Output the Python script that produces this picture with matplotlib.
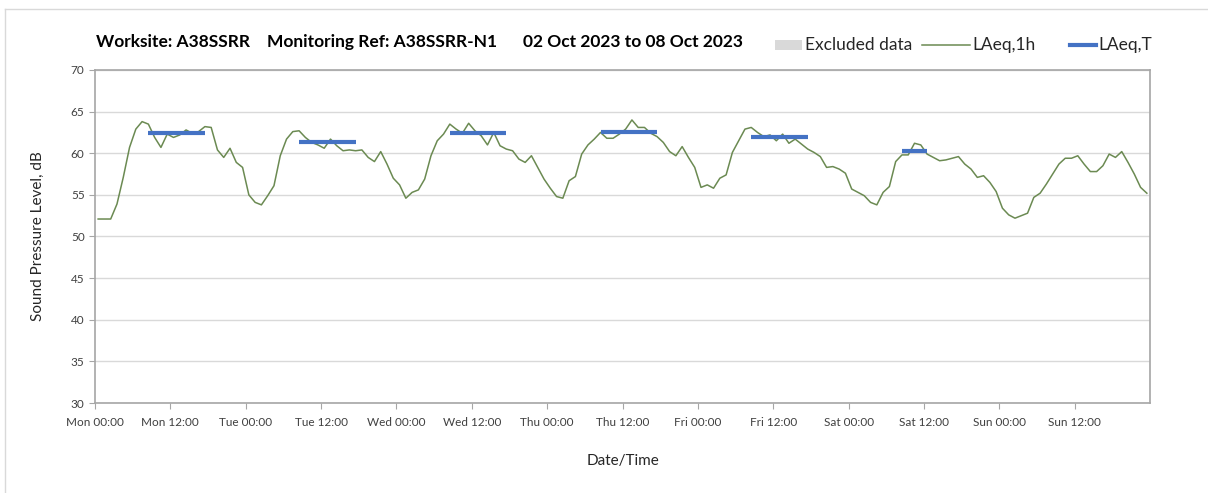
"""Hourly noise monitoring chart: LAeq,1h with daytime LAeq,T bars."""

import matplotlib.pyplot as plt
import numpy as np
from matplotlib.lines import Line2D
from matplotlib.patches import Rectangle

plt.rcParams["font.family"] = ["Lato", "DejaVu Sans"]

# hourly LAeq,1h values, one list per day (Mon..Sun), 00:00-23:00
laeq_mon = [52.1, 52.1, 52.1, 53.9, 57.1, 60.7, 62.9, 63.8, 63.5, 61.9, 60.7, 62.3,
            61.9, 62.2, 62.8, 62.4, 62.6, 63.2, 63.1, 60.4, 59.5, 60.6, 58.9, 58.3]
laeq_tue = [55.0, 54.1, 53.8, 54.9, 56.1, 59.7, 61.7, 62.6, 62.7, 61.9, 61.3, 61.0,
            60.6, 61.7, 60.9, 60.3, 60.4, 60.3, 60.4, 59.5, 59.0, 60.2, 58.7, 57.0]
laeq_wed = [56.2, 54.6, 55.3, 55.6, 56.9, 59.7, 61.5, 62.3, 63.5, 62.9, 62.4, 63.6,
            62.7, 62.1, 61.0, 62.5, 60.9, 60.5, 60.3, 59.3, 58.9, 59.7, 58.3, 56.9]
laeq_thu = [55.8, 54.8, 54.6, 56.7, 57.2, 59.9, 61.0, 61.7, 62.5, 61.8, 61.8, 62.3,
            62.9, 64.0, 63.1, 63.1, 62.4, 62.0, 61.3, 60.2, 59.7, 60.8, 59.5, 58.3]
laeq_fri = [55.9, 56.2, 55.8, 57.0, 57.4, 60.1, 61.5, 62.9, 63.1, 62.5, 62.0, 62.2,
            61.5, 62.3, 61.2, 61.7, 61.1, 60.5, 60.1, 59.6, 58.3, 58.4, 58.1, 57.6]
laeq_sat = [55.7, 55.3, 54.9, 54.1, 53.8, 55.3, 56.0, 59.0, 59.8, 59.8, 61.2, 61.0,
            59.9, 59.5, 59.1, 59.2, 59.4, 59.6, 58.7, 58.1, 57.1, 57.3, 56.5, 55.4]
laeq_sun = [53.4, 52.6, 52.2, 52.5, 52.8, 54.7, 55.2, 56.3, 57.5, 58.7, 59.4, 59.4,
            59.7, 58.7, 57.8, 57.8, 58.5, 59.9, 59.5, 60.2, 58.9, 57.5, 55.9, 55.2]

# daytime LAeq,T per day: day index, first hour, last hour, level
laeq_t_days = [0, 1, 2, 3, 4, 5]
laeq_t_start = [8, 8, 8, 8, 8, 8]
laeq_t_end = [17, 17, 17, 17, 17, 12]
laeq_t_level = [62.4, 61.3, 62.4, 62.6, 61.9, 60.3]

day_names = ["Mon", "Tue", "Wed", "Thu", "Fri", "Sat", "Sun"]

hourly = np.concatenate([laeq_mon, laeq_tue, laeq_wed, laeq_thu,
                         laeq_fri, laeq_sat, laeq_sun])
hours = np.arange(len(hourly)) + 0.5

W, H = 1208, 493
fig = plt.figure(figsize=(W / 100, H / 100), dpi=100)
ax = fig.add_axes([95 / W, 1 - 403 / H, 1055 / W, 333 / H])

green = "#6b8a52"
blue = "#4472c4"
grid_c = "#d9d9d9"

ax.plot(hours, hourly, color=green, lw=1.1, zorder=3)
for d, h0, h1, lvl in zip(laeq_t_days, laeq_t_start, laeq_t_end, laeq_t_level):
    ax.plot([d * 24 + h0 + 0.5, d * 24 + h1 + 0.5], [lvl, lvl],
            color=blue, lw=3, solid_capstyle="butt", zorder=4)

ax.set_xlim(0, 168)
ax.set_ylim(30, 70)
ax.set_yticks(np.arange(30, 71, 5))
ax.set_xticks(np.arange(0, 168, 12))
ax.set_xticklabels([f"{day_names[i // 2]} {'00:00' if i % 2 == 0 else '12:00'}"
                    for i in range(14)])
ax.set_xticks(np.arange(0, 169, 24), minor=True)
ax.tick_params(axis="both", which="major", labelsize=8.5, length=4,
               color="#a6a6a6", labelcolor="#404040")
ax.tick_params(axis="x", which="major", pad=6)
ax.tick_params(axis="x", which="minor", length=0)
ax.grid(axis="y", which="major", color=grid_c, lw=1)
ax.grid(axis="x", which="minor", color=grid_c, lw=1)
for s in ax.spines.values():
    s.set_color("#a6a6a6")
    s.set_linewidth(1.2)

ax.set_ylabel("Sound Pressure Level, dB", fontsize=11, color="#262626", labelpad=19)
ax.set_xlabel("Date/Time", fontsize=11, color="#262626", labelpad=19)

fig.text(96 / W, 1 - 42 / H, "Worksite: A38SSRR    Monitoring Ref: A38SSRR-N1",
         fontsize=12.5, fontweight="bold", va="center", ha="left")
fig.text(523 / W, 1 - 42 / H, "02 Oct 2023 to 08 Oct 2023",
         fontsize=12.5, fontweight="bold", va="center", ha="left")

# legend, placed by hand to match the spacing of the original
ly = 1 - 45 / H
fig.add_artist(Rectangle((775 / W, 1 - 50 / H), 27 / W, 10 / H,
                         facecolor="#d9d9d9", edgecolor="none", transform=fig.transFigure))
fig.text(805 / W, ly, "Excluded data", fontsize=12.5, color="#262626", va="center")
fig.add_artist(Line2D([922 / W, 970 / W], [ly, ly], color=green, lw=1.1))
fig.text(972 / W, ly, "LAeq,1h", fontsize=12.5, color="#262626", va="center")
fig.add_artist(Line2D([1070 / W, 1096 / W], [ly, ly], color=blue, lw=3))
fig.text(1098 / W, ly, "LAeq,T", fontsize=12.5, color="#262626", va="center")

# light frame around the chart area
fig.add_artist(Line2D([5 / W, 5 / W], [0, 1 - 9 / H], color="#d9d9d9", lw=1))
fig.add_artist(Line2D([5 / W, 1], [1 - 9 / H, 1 - 9 / H], color="#d9d9d9", lw=1))

fig.savefig("out.png", dpi=100)
